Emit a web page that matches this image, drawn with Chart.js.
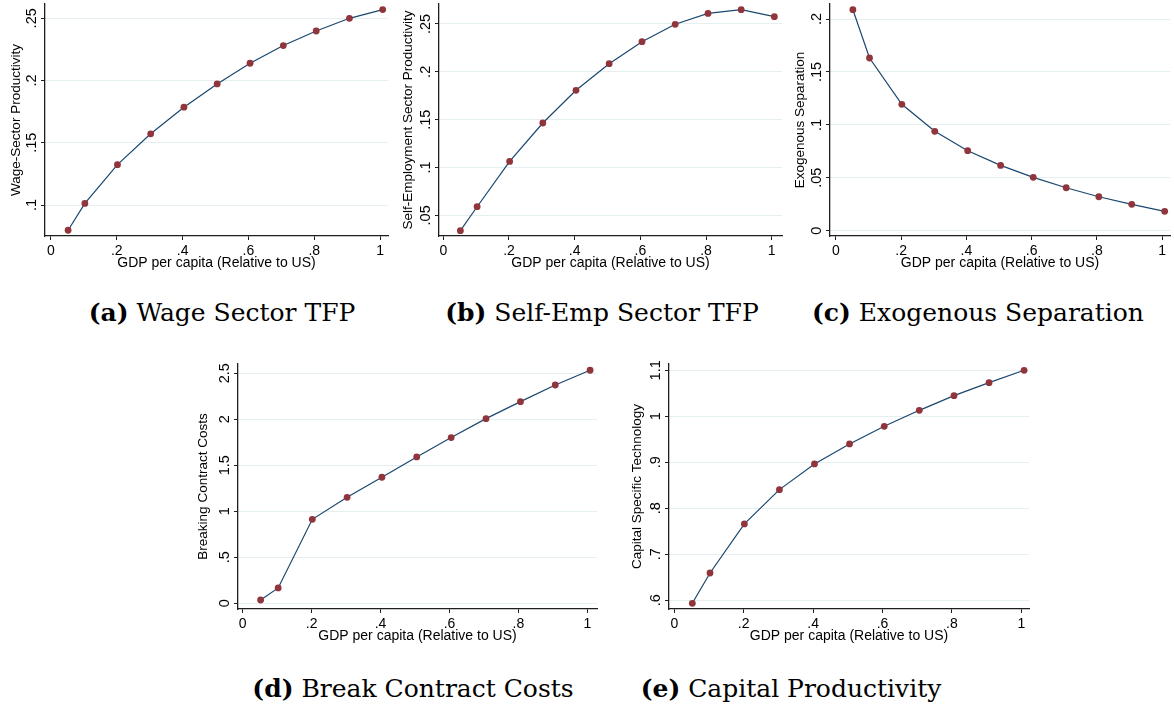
<!DOCTYPE html>
<html>
<head>
<meta charset="utf-8">
<script src="https://cdn.jsdelivr.net/npm/chart.js@4.4.1/dist/chart.umd.min.js"></script>
<style>
  html, body { margin: 0; padding: 0; background: #fff; }
  body { width: 1174px; height: 708px; position: relative; overflow: hidden; }
  canvas { position: absolute; }
  .cap {
    position: absolute;
    font-family: "DejaVu Serif", "Liberation Serif", serif;
    font-size: 25px;
    color: #000;
    white-space: nowrap;
    transform: translate(-50%, -50%);
  }
  .cap b { font-weight: bold; }
</style>
</head>
<body>
<canvas id="wage"></canvas>
<canvas id="selfemp"></canvas>
<canvas id="sep"></canvas>
<canvas id="breakc"></canvas>
<canvas id="capital"></canvas>

<div class="cap" style="left:222px; top:312px;"><b>(a)</b> Wage Sector TFP</div>
<div class="cap" style="left:602px; top:312px;"><b>(b)</b> Self-Emp Sector TFP</div>
<div class="cap" style="left:978px; top:312px;"><b>(c)</b> Exogenous Separation</div>
<div class="cap" style="left:413px; top:688px;"><b>(d)</b> Break Contract Costs</div>
<div class="cap" style="left:791px; top:688px;"><b>(e)</b> Capital Productivity</div>

<script>
// GDP per capita relative to US (x for every panel)
const gdpShare = [0.052, 0.103, 0.202, 0.303, 0.404, 0.505, 0.605, 0.706, 0.806, 0.907, 1.008];

const wageTFP = [0.0797, 0.1013, 0.1324, 0.1572, 0.1786, 0.1973, 0.2139, 0.2281, 0.2398, 0.2500, 0.2570];
const selfEmpTFP = [0.0340, 0.0590, 0.1064, 0.1465, 0.1807, 0.2085, 0.2315, 0.2497, 0.2611, 0.2650, 0.2577];
const sepRate = [0.2088, 0.1632, 0.1194, 0.0939, 0.0756, 0.0617, 0.0504, 0.0406, 0.0321, 0.0249, 0.0183];
const breakCost = [0.036, 0.167, 0.913, 1.152, 1.370, 1.591, 1.801, 2.007, 2.192, 2.373, 2.533];
const capitalTech = [0.5935, 0.6594, 0.766, 0.8406, 0.8964, 0.9399, 0.9783, 1.013, 1.0449, 1.0732, 1.100];

// tick labels
const xTicks = [0, 0.2, 0.4, 0.6, 0.8, 1];
const wageTicks = [0.1, 0.15, 0.2, 0.25];
const selfEmpTicks = [0.05, 0.1, 0.15, 0.2, 0.25];
const sepTicks = [0, 0.05, 0.1, 0.15, 0.2];
const breakTicks = [0, 0.5, 1, 1.5, 2, 2.5];
const capitalTicks = [0.6, 0.7, 0.8, 0.9, 1, 1.1];

const xTitle = "GDP per capita (Relative to US)";

const NAVY = "#1a476f";
const MAROON = "#90353b";
const GRID = "#e6eff0";
const AXIS = "#1e1e1e";
const FONT = "'Liberation Sans', Arial, sans-serif";

// Stata style: drop leading zero
const fmt = (v) => {
  let s = String(+(+v).toFixed(3));
  return s.replace(/^0\./, ".").replace(/^-0\./, "-.");
};

const makePanel = function (id, values, yTicks, yTitle, p) {
  const canvas = document.getElementById(id);
  const left = p.titleX - 8;
  const top = p.area.t - 4;
  const right = p.area.r + p.padR;
  const height = p.area.b + 36 - top;
  canvas.width = right - left;
  canvas.height = height;
  canvas.style.left = left + "px";
  canvas.style.top = top + "px";

  new Chart(canvas.getContext("2d"), {
    type: "line",
    data: {
      datasets: [
        {
          data: values.map((v, i) => ({ x: gdpShare[i], y: v })),
          borderColor: NAVY,
          borderWidth: 1.2,
          pointRadius: 3.4,
          pointBackgroundColor: MAROON,
          pointBorderColor: MAROON,
          pointBorderWidth: 0,
          tension: 0,
          clip: false,
        },
      ],
    },
    options: {
      responsive: false,
      animation: false,
      layout: { padding: { left: 0, top: 4, right: p.padR, bottom: 0 } },
      plugins: { legend: { display: false }, tooltip: { enabled: false } },
      scales: {
        x: {
          type: "linear",
          min: p.xr[0],
          max: p.xr[1],
          afterBuildTicks: (s) => { s.ticks = xTicks.map((v) => ({ value: v })); },
          afterFit: (s) => {
            s.height = 36;
            s.paddingLeft = 0; s.paddingRight = 0;
          },
          grid: { drawOnChartArea: false, tickLength: 4, tickColor: AXIS, tickWidth: 1 },
          border: { display: true, color: AXIS, width: 1.3 },
          ticks: {
            autoSkip: false, maxRotation: 0, padding: 3,
            color: "#000", font: { family: FONT, size: 14 },
            callback: (v) => fmt(v),
          },
          title: {
            display: true, text: xTitle, color: "#000",
            font: { family: FONT, size: 14 }, padding: 0,
          },
        },
        y: {
          type: "linear",
          min: p.yr[0],
          max: p.yr[1],
          afterBuildTicks: (s) => { s.ticks = yTicks.map((v) => ({ value: v })); },
          afterFit: (s) => {
            s.width = p.area.l - left;
            s.paddingTop = 0; s.paddingBottom = 0;
          },
          grid: { color: GRID, lineWidth: 1, tickLength: 4, tickColor: AXIS, tickWidth: 1 },
          border: { display: true, color: AXIS, width: 1.3 },
          ticks: {
            autoSkip: false, minRotation: 90, maxRotation: 90,
            crossAlign: "center", padding: -1,
            color: "#000", font: { family: FONT, size: 14.5 },
            callback: (v) => fmt(v),
          },
          title: {
            display: true, text: yTitle, color: "#000",
            font: { family: FONT, size: 13.5 }, padding: 0,
          },
        },
      },
    },
  });
};

makePanel("wage", wageTFP, wageTicks, "Wage-Sector Productivity", {
  titleX: 16, area: { l: 45, r: 389, t: 4, b: 236 }, padR: 3,
  xr: [-0.0182, 1.0242], yr: [0.0751, 0.2615],
});
makePanel("selfemp", selfEmpTFP, selfEmpTicks, "Self-Employment Sector Productivity", {
  titleX: 408, area: { l: 439, r: 783, t: 4, b: 236 }, padR: 3,
  xr: [-0.0131, 1.0313], yr: [0.0284, 0.2709],
});
makePanel("sep", sepRate, sepTicks, "Exogenous Separation", {
  titleX: 800, area: { l: 830, r: 1173, t: 4, b: 236 }, padR: 1,
  xr: [-0.0182, 1.0243], yr: [-0.005, 0.2142],
});
makePanel("breakc", breakCost, breakTicks, "Breaking Contract Costs", {
  titleX: 203, area: { l: 238, r: 598, t: 364, b: 609 }, padR: 3,
  xr: [-0.0136, 1.0281], yr: [-0.062, 2.601],
});
makePanel("capital", capitalTech, capitalTicks, "Capital Specific Technology", {
  titleX: 637, area: { l: 669, r: 1030, t: 364, b: 609 }, padR: 3,
  xr: [-0.0152, 1.0221], yr: [0.5811, 1.1137],
});
</script>
</body>
</html>
